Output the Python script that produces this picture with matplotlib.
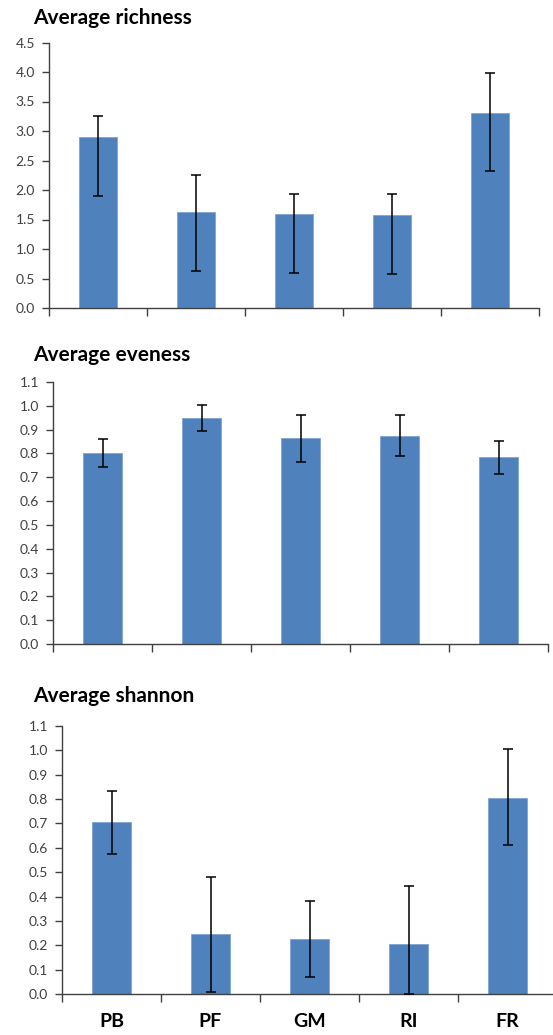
import matplotlib
matplotlib.use("Agg")
import matplotlib.pyplot as plt
import numpy as np
from matplotlib.ticker import FormatStrFormatter

plt.rcParams["font.family"] = ["Lato", "DejaVu Sans"]

sites = ["PB", "PF", "GM", "RI", "FR"]

richness_mean = [2.90, 1.63, 1.59, 1.57, 3.31]
richness_low = [1.90, 0.62, 0.60, 0.57, 2.32]
richness_high = [3.26, 2.25, 1.93, 1.93, 3.99]

evenness_mean = [0.800, 0.950, 0.865, 0.875, 0.785]
evenness_low = [0.745, 0.895, 0.763, 0.789, 0.715]
evenness_high = [0.862, 1.005, 0.963, 0.963, 0.852]

shannon_mean = [0.705, 0.245, 0.225, 0.205, 0.805]
shannon_low = [0.575, 0.010, 0.070, 0.000, 0.610]
shannon_high = [0.835, 0.482, 0.380, 0.442, 1.005]

BAR_COLOR = "#4F81BD"
AXIS_COLOR = "#404040"

W, H = 553, 1035
fig = plt.figure(figsize=(W / 100, H / 100), dpi=100)


def px_axes(left, right, top, bottom):
    return fig.add_axes([left / W, 1 - bottom / H, (right - left) / W, (bottom - top) / H])


panels = [
    # title, mean, low, high, ymax, ystep, axes box (px), title y (px)
    ("Average richness", richness_mean, richness_low, richness_high, 4.5, 0.5, (49, 539, 42.5, 308), 18),
    ("Average eveness", evenness_mean, evenness_low, evenness_high, 1.1, 0.1, (53, 548, 382, 644), 355),
    ("Average shannon", shannon_mean, shannon_low, shannon_high, 1.1, 0.1, (62, 557, 726, 994), 696),
]

x = np.arange(len(sites))
for i, (title, mean, low, high, ymax, ystep, box, ty) in enumerate(panels):
    ax = px_axes(*box)
    mean = np.array(mean)
    yerr = [mean - np.array(low), np.array(high) - mean]
    ax.bar(x, mean, width=0.39, color=BAR_COLOR, edgecolor="#7FA3CF", linewidth=0.6, zorder=2)
    ax.errorbar(x, mean, yerr=yerr, fmt="none", ecolor="black", elinewidth=1.1,
                capsize=3.5, capthick=1.1, zorder=3)

    ax.set_xlim(-0.5, len(sites) - 0.5)
    ax.set_ylim(0, ymax)
    ax.set_yticks(np.arange(0, ymax + ystep / 2, ystep))
    ax.yaxis.set_major_formatter(FormatStrFormatter("%.1f"))

    # category boundaries get the tick marks, centres get the labels
    ax.set_xticks(np.arange(-0.5, len(sites), 1.0))
    ax.set_xticklabels([])
    ax.set_xticks(x, minor=True)
    if i == len(panels) - 1:
        ax.set_xticklabels(sites, minor=True, fontsize=14, fontweight="bold")
    ax.tick_params(axis="x", which="major", length=6, width=1, color=AXIS_COLOR)
    ax.tick_params(axis="x", which="minor", length=0, pad=14)
    ax.tick_params(axis="y", length=5, width=1, color=AXIS_COLOR, labelsize=10,
                   labelcolor=AXIS_COLOR, pad=5)

    for side in ("top", "right"):
        ax.spines[side].set_visible(False)
    for side in ("left", "bottom"):
        ax.spines[side].set_color(AXIS_COLOR)
        ax.spines[side].set_linewidth(1)

    fig.text(33 / W, 1 - ty / H, title, fontsize=15, fontweight="bold",
             ha="left", va="center", color="black")

fig.savefig("out.png", dpi=100)
